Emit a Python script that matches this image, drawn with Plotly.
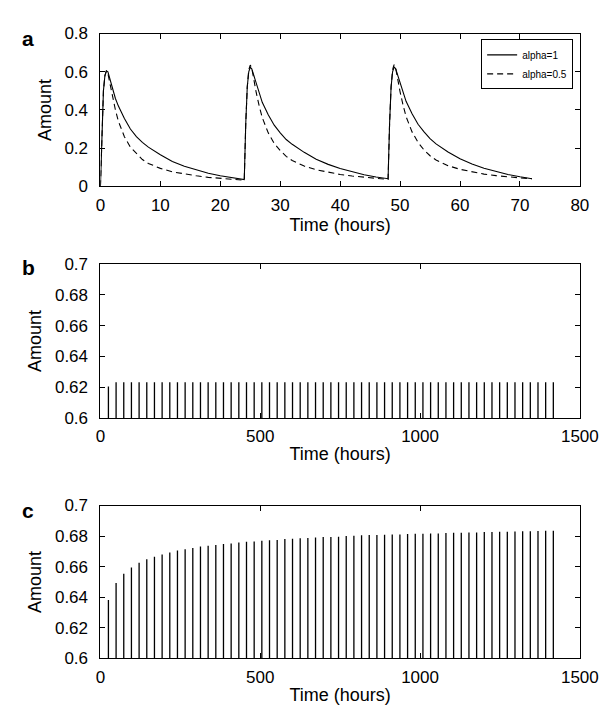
import plotly.graph_objects as go

# ---------------- Panel a data ----------------
t_solid = [0, 0.25, 0.5, 0.75, 1.0, 1.25, 1.5, 2, 2.5, 3, 4, 5, 6, 7, 8, 10, 12, 14, 16, 18, 20, 22, 24,
           24.25, 24.5, 24.75, 25, 25.25, 25.5, 26, 26.5, 27, 28, 29, 30, 31, 32, 34, 36, 38, 40, 42, 44, 46, 48,
           48.25, 48.5, 48.75, 49, 49.25, 49.5, 50, 50.5, 51, 52, 53, 54, 55, 56, 58, 60, 62, 64, 66, 68, 70, 72]
v_solid = [0, 0.30, 0.50, 0.58, 0.605, 0.60, 0.57, 0.51, 0.46, 0.42, 0.355, 0.30, 0.26, 0.23, 0.205, 0.165, 0.13, 0.105, 0.085, 0.068, 0.055, 0.044, 0.035,
           0.33, 0.52, 0.60, 0.623, 0.615, 0.59, 0.53, 0.48, 0.44, 0.375, 0.32, 0.28, 0.245, 0.22, 0.178, 0.142, 0.115, 0.093, 0.075, 0.061, 0.049, 0.040,
           0.33, 0.52, 0.60, 0.625, 0.617, 0.592, 0.535, 0.485, 0.445, 0.38, 0.325, 0.285, 0.25, 0.222, 0.18, 0.145, 0.117, 0.095, 0.077, 0.062, 0.050, 0.040]

t_dash = [0, 0.25, 0.5, 0.75, 1.0, 1.25, 1.5, 2, 2.5, 3, 4, 5, 6, 7, 8, 10, 12, 14, 16, 18, 20, 22, 24,
          24.25, 24.5, 24.75, 25, 25.25, 25.5, 26, 26.5, 27, 28, 29, 30, 31, 32, 34, 36, 38, 40, 42, 44, 46, 48,
          48.25, 48.5, 48.75, 49, 49.25, 49.5, 50, 50.5, 51, 52, 53, 54, 55, 56, 58, 60, 62, 64, 66, 68, 70, 72]
v_dash = [0, 0.30, 0.50, 0.58, 0.605, 0.59, 0.55, 0.47, 0.40, 0.34, 0.26, 0.205, 0.17, 0.14, 0.12, 0.094, 0.076, 0.064, 0.055, 0.047, 0.041, 0.036, 0.032,
          0.33, 0.52, 0.61, 0.635, 0.62, 0.575, 0.49, 0.42, 0.36, 0.28, 0.225, 0.187, 0.157, 0.135, 0.106, 0.087, 0.073, 0.062, 0.054, 0.047, 0.041, 0.036,
          0.33, 0.52, 0.61, 0.637, 0.622, 0.578, 0.495, 0.425, 0.365, 0.285, 0.23, 0.19, 0.16, 0.138, 0.108, 0.089, 0.075, 0.064, 0.056, 0.049, 0.044, 0.040]

# ---------------- Panels b and c: daily peak amounts ----------------
peak_times = [1 + 24 * k for k in range(1, 60)]          # dosing every 24 h, peak 1 h after
peaks_b = [0.6205] + [0.6232] * 58
peaks_c = [0.6381, 0.6492, 0.6553, 0.6595, 0.6625, 0.6648, 0.6665, 0.6680, 0.6693, 0.6706,
           0.6714, 0.6722, 0.6731, 0.6737, 0.6742, 0.6748, 0.6752, 0.6758, 0.6763, 0.6765,
           0.6769, 0.6773, 0.6775, 0.6780, 0.6783, 0.6785, 0.6787, 0.6790, 0.6794, 0.6794,
           0.6796, 0.6800, 0.6802, 0.6805, 0.6807, 0.6807, 0.6809, 0.6811, 0.6811, 0.6813,
           0.6815, 0.6815, 0.6817, 0.6817, 0.6820, 0.6822, 0.6822, 0.6824, 0.6824, 0.6826,
           0.6826, 0.6828, 0.6829, 0.6830, 0.6831, 0.6832, 0.6833, 0.6834, 0.6835]

xa_ticks = [0, 10, 20, 30, 40, 50, 60, 70, 80]
ya_ticks = [0, 0.2, 0.4, 0.6, 0.8]
ya_text = ["0", "0.2", "0.4", "0.6", "0.8"]
xbc_ticks = [0, 500, 1000, 1500]
ybc_ticks = [0.6, 0.62, 0.64, 0.66, 0.68, 0.7]
ybc_text = ["0.6", "0.62", "0.64", "0.66", "0.68", "0.7"]

FONT = "Liberation Sans, Arial, Helvetica, sans-serif"


def stems(times, peaks, base=0.59):
    xs, ys = [], []
    for t, p in zip(times, peaks):
        xs += [t, t, None]
        ys += [base, p, None]
    return xs, ys


fig = go.Figure()

fig.add_trace(go.Scatter(x=t_solid, y=v_solid, mode="lines", name="alpha=1",
                         line=dict(color="black", width=1.1), xaxis="x", yaxis="y"))
fig.add_trace(go.Scatter(x=t_dash, y=v_dash, mode="lines", name="alpha=0.5",
                         line=dict(color="black", width=1.1, dash="6px,4px"), xaxis="x", yaxis="y"))

xb, yb = stems(peak_times, peaks_b)
fig.add_trace(go.Scatter(x=xb, y=yb, mode="lines", showlegend=False,
                         line=dict(color="black", width=1.3), xaxis="x2", yaxis="y2"))
xc, yc = stems(peak_times, peaks_c)
fig.add_trace(go.Scatter(x=xc, y=yc, mode="lines", showlegend=False,
                         line=dict(color="black", width=1.3), xaxis="x3", yaxis="y3"))

W, H = 612, 707
xdom = [91 / W, 590 / W]


def ydom(top, bottom):
    return [1 - bottom / H, 1 - top / H]


TICKF = dict(family=FONT, size=17, color="black")
TITLEF = dict(family=FONT, size=18, color="black")

common = dict(showline=True, linecolor="black", linewidth=1, mirror="ticks", ticks="inside",
              ticklen=5, tickcolor="black", showgrid=False, zeroline=False, tickfont=TICKF)
xcommon = dict(ticklabelstandoff=3, **common)
ycommon = dict(ticklabelstandoff=8, **common)

fig.update_layout(
    width=W, height=H, margin=dict(l=0, r=0, t=0, b=0),
    paper_bgcolor="white", plot_bgcolor="white",
    font=dict(family=FONT, color="black"),
    xaxis=dict(domain=xdom, anchor="y", range=[0, 80], tickvals=xa_ticks,
               title=dict(text="Time (hours)", font=TITLEF, standoff=2), **xcommon),
    yaxis=dict(domain=ydom(17, 174), anchor="x", range=[0, 0.8], tickvals=ya_ticks, ticktext=ya_text,
               title=dict(text="Amount", font=TITLEF, standoff=8), **ycommon),
    xaxis2=dict(domain=xdom, anchor="y2", range=[0, 1500], tickvals=xbc_ticks,
                title=dict(text="Time (hours)", font=TITLEF, standoff=2), **xcommon),
    yaxis2=dict(domain=ydom(254, 412), anchor="x2", range=[0.6, 0.7], tickvals=ybc_ticks, ticktext=ybc_text,
                title=dict(text="Amount", font=TITLEF, standoff=8), **ycommon),
    xaxis3=dict(domain=xdom, anchor="y3", range=[0, 1500], tickvals=xbc_ticks,
                title=dict(text="Time (hours)", font=TITLEF, standoff=2), **xcommon),
    yaxis3=dict(domain=ydom(502, 659), anchor="x3", range=[0.6, 0.7], tickvals=ybc_ticks, ticktext=ybc_text,
                title=dict(text="Amount", font=TITLEF, standoff=8), **ycommon),
    legend=dict(x=583 / W, y=1 - 23 / H, xanchor="right", yanchor="top",
                bgcolor="white", bordercolor="black", borderwidth=1,
                font=dict(family=FONT, size=10, color="black"), tracegroupgap=0),
    showlegend=True,
)

for letter, ytop in [("a", 22), ("b", 257), ("c", 507)]:
    fig.add_annotation(text="<b>%s</b>" % letter, x=16 / W, y=1 - ytop / H, xref="paper", yref="paper",
                       showarrow=False, xanchor="center", yanchor="middle",
                       font=dict(family=FONT, size=21, color="black"))

fig.write_html("out.html")
